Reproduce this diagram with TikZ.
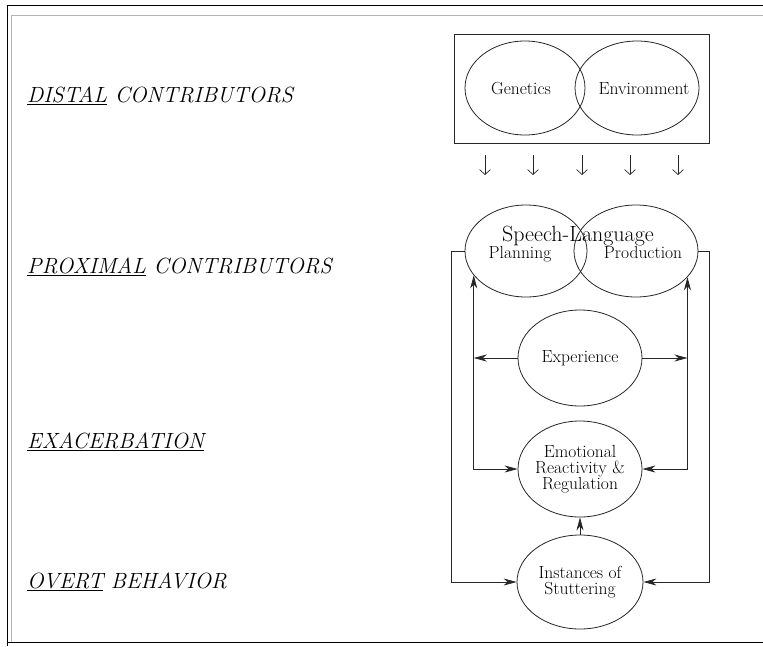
\documentclass[tikz,border=0pt]{standalone}
\usetikzlibrary{shapes.geometric,arrows.meta,positioning}
\begin{document}
\begin{tikzpicture}
	[x=1pt,y=-1pt,>={Stealth[length=13pt,width=7pt,inset=4pt]},
	 blob/.style={draw=black!85,line width=0.8pt,ellipse,inner xsep=-30pt,inner ysep=-20pt,
	   minimum width=124pt,minimum height=94pt,align=center,font=\fontsize{17.5}{16}\selectfont},
	 word/.style={anchor=base,inner sep=0pt,font=\fontsize{17.5}{16}\selectfont},
	 fb/.style={draw=black!85,line width=0.7pt,->},
	 dn/.style={draw=black!85,line width=0.7pt,-{Straight Barb[length=5pt,width=11pt]}},
	 lvl/.style={anchor=base west,inner sep=0pt,font=\fontsize{22}{24}\selectfont\itshape}]
	\useasboundingbox (0,0) rectangle (763,646);
	\draw[line width=1pt] (7,646) -- (7,5) -- (763,5);
	\draw[line width=1pt] (7,642) -- (763,642);
	\draw[gray!60] (11,642) -- (11,15) -- (763,15);
	\node[lvl] (distal) at (27,102) {\underline{DISTAL} CONTRIBUTORS};
	\node[lvl] (proximal) at (27,273) {\underline{PROXIMAL} CONTRIBUTORS};
	\node[lvl] (exacer) at (27,448) {\underline{EXACERBATION}};
	\node[lvl] (overt) at (27,588) {\underline{OVERT} BEHAVIOR};
	\node[draw=black!85,line width=0.8pt,minimum width=255pt,minimum height=109pt] (box) at (581.5,88.5) {};
	\node[blob,minimum width=120pt] (gen) at (525,88) {};
	\node[blob] (env) at (637,88) {};
	\node[word] (gentext) at (521,94) {Genetics};
	\node[word] (envtext) at (644,94) {Environment};
	\foreach \x in {485,533,582,630,678}
		\draw[dn] (\x,155) -- ++(0,20);
	\node[blob,minimum width=122pt,minimum height=92pt] (plan) at (526,251) {};
	\node[blob,minimum height=92pt] (prod) at (636,251) {};
	\node[anchor=base,inner sep=0pt,font=\fontsize{22}{24}\selectfont] (speech) at (578,241) {Speech-Language};
	\node[word] (plantext) at (520,258) {Planning};
	\node[word] (prodtext) at (643,258) {Production};
	\node[blob,minimum height=96pt] (exp) at (580,358) {Experience};
	\node[blob,minimum height=96pt] (emo) at (580,469) {Emotional\\Reactivity \&\\Regulation};
	\node[blob,minimum width=126pt] (inst) at (580,582) {Instances of\\Stuttering};
	\draw[fb] (inst) -- (emo);
	\draw[fb] (plan.west) -- ++(-13,0) |- (inst.west);
	\draw[fb] (prod.east) -- ++(11,0) |- (inst.east);
	\draw[fb,<->] (emo.west) -| (plan.205);
	\draw[fb,<->] (emo.east) -| (prod.-27);
	\draw[fb] (exp.west) -- (exp.west -| plan.205);
	\draw[fb] (exp.east) -- (exp.east -| prod.-27);
\end{tikzpicture}
\end{document}
